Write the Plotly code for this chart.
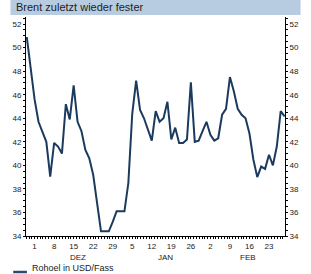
import pandas as pd
import plotly.graph_objects as go

title = "Brent zuletzt wieder fester"
series_name = "Rohoel in USD/Fass"
month_names = {12: "DEZ", 1: "JAN", 2: "FEB"}

# trading days (weekdays) 27 Nov 2008 - 27 Feb 2009
dates = pd.bdate_range("2008-11-27", "2009-02-27")
values = [
    50.9, 48.3, 45.6, 43.7, 42.8, 42.0, 39.05, 41.9, 41.6, 41.0,
    45.2, 43.9, 46.8, 43.7, 42.9, 41.3, 40.6, 39.2, 36.8, 34.4,
    34.4, 34.4, 35.2, 36.1, 36.1, 36.1, 38.5, 44.4, 47.2, 44.7,
    44.0, 43.1, 42.1, 44.6, 43.7, 44.0, 45.4, 42.2, 43.2, 41.9,
    41.9, 42.2, 47.05, 42.0, 42.1, 42.9, 43.7, 42.6, 42.1, 42.3,
    44.3, 44.8, 47.5, 46.3, 44.8, 44.3, 44.0, 42.7, 40.5, 39.0,
    39.9, 39.7, 40.9, 40.0, 41.6, 44.6, 44.15,
]
y_ticks = list(range(34, 53, 2))

idx = list(range(len(dates)))
mondays = [i for i, d in enumerate(dates) if d.weekday() == 0]
monday_labels = [str(dates[i].day) for i in mondays]

line_color = "#1b3a5e"
tick_font = dict(family="Liberation Sans, Arial, sans-serif", size=8, color="#222222")

fig = go.Figure()
fig.add_trace(go.Scatter(x=idx, y=values, mode="lines", name=series_name,
                         line=dict(color=line_color, width=2), showlegend=False))
fig.add_trace(go.Scatter(x=idx, y=values, mode="lines", yaxis="y2",
                         line=dict(color="rgba(0,0,0,0)", width=0),
                         hoverinfo="skip", showlegend=False))

yax = dict(range=[34, 52.6], tickvals=y_ticks, ticks="outside", ticklen=2,
           tickcolor="#000", showline=True, linecolor="#000", linewidth=1,
           showgrid=False, zeroline=False, tickfont=tick_font,
           minor=dict(dtick=0.5, ticks="outside", ticklen=2, tickcolor="#000"))

fig.update_layout(
    width=311, height=274,
    margin=dict(l=14, r=13, t=17, b=38),
    paper_bgcolor="white", plot_bgcolor="white",
    xaxis=dict(range=[-0.2, 66.1], tickvals=mondays, ticktext=monday_labels,
               ticks="outside", ticklen=2, tickcolor="#000", showline=True,
               linecolor="#000", linewidth=1, showgrid=False, zeroline=False,
               tickfont=tick_font,
               minor=dict(tick0=mondays[0], dtick=5/7, ticks="outside",
                          ticklen=2, tickcolor="#000")),
    yaxis=dict(**yax, side="left"),
    yaxis2=dict(**yax, side="right", overlaying="y", matches="y"),
    shapes=[
        dict(type="rect", xref="paper", yref="paper", x0=-0.06, x1=1.06,
             y0=1.0 + 2/219, y1=1.0 + 17/219, fillcolor="#b8cce1",
             line=dict(width=0), layer="below"),
        dict(type="line", xref="paper", yref="paper",
             x0=-14/284, x1=1/284, y0=-36/219, y1=-36/219,
             line=dict(color="#2b4a70", width=2.5)),
    ],
    showlegend=False,
)

annotations = [
    dict(text=title, xref="paper", yref="paper", x=-13/284, y=1.0 + 9.5/219,
         xanchor="left", yanchor="middle", showarrow=False,
         font=dict(family="Liberation Sans, Arial, sans-serif", size=11, color="#222222")),
    dict(text=series_name, xref="paper", yref="paper", x=4/284, y=-31.5/219,
         xanchor="left", yanchor="middle", showarrow=False,
         font=dict(family="Liberation Sans, Arial, sans-serif", size=9, color="#222222")),
]
for m, name in month_names.items():
    ids = [i for i, d in enumerate(dates) if d.month == m]
    annotations.append(dict(text=name, x=sum(ids) / len(ids), xref="x",
                            yref="paper", y=-14.5/219, yanchor="top",
                            showarrow=False, font=tick_font))
fig.update_layout(annotations=annotations)

fig.write_html("out.html")
